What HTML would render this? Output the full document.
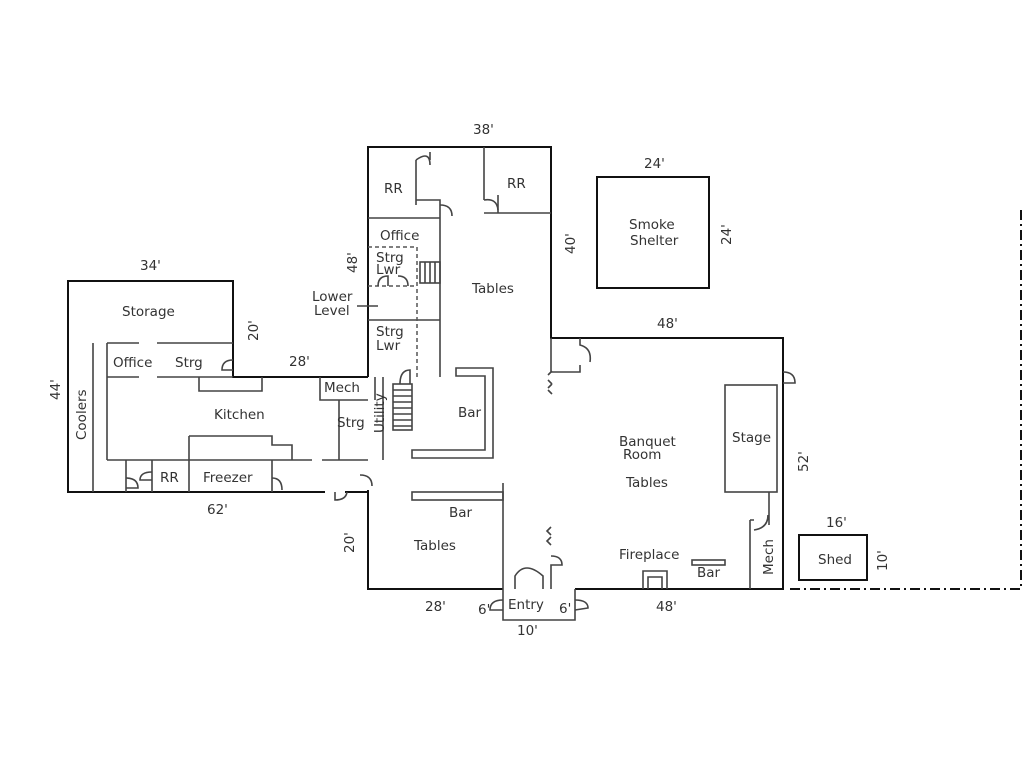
<!DOCTYPE html>
<html><head><meta charset="utf-8"><style>
html,body{margin:0;padding:0;background:#fff;}
svg{display:block}
text{font-family:"DejaVu Sans","Liberation Sans",sans-serif;font-size:13.5px;fill:#333;}
.w{stroke:#111;stroke-width:2;fill:none}
.t{stroke:#444;stroke-width:1.6;fill:none}
.d{stroke:#555;stroke-width:1.5;fill:none;stroke-dasharray:4 3}
</style></head><body>
<svg width="1024" height="768" viewBox="0 0 1024 768" xmlns="http://www.w3.org/2000/svg">
<path class="w" d="M368,377 L368,147 L551,147 L551,338 L783,338 L783,589 L575,589 M503,589 L368,589 L368,490"/>
<path class="w" d="M368,377 L233,377 L233,281 L68,281 L68,492 L325,492 M345,492 L368,492"/>
<path class="t" d="M503,589 L503,620 L575,620 L575,589"/>
<rect class="w" x="597" y="177" width="112" height="111"/>
<rect class="w" x="799" y="535" width="68" height="45"/>
<path d="M790,589 L1021,589 L1021,208" stroke="#111" stroke-width="2" fill="none" stroke-dasharray="10 4 2 4"/>
<path class="t" d="M416,205 L416,160 M430,160 L430,152 M416,200 L440,200 L440,377 M368,218 L440,218 M368,320 L440,320 M484,147 L484,200 M484,213 L551,213 M498,195 L498,213"/>
<path class="t" d="M416,160 Q430,150 430,165 M440,205 Q452,205 452,216 M484,200 Q497,198 498,210"/>
<path class="d" d="M368,247 L417,247 L417,377 M368,286 L417,286"/>
<rect class="t" x="420" y="262" width="20" height="21"/>
<path class="t" d="M425,262V283M430,262V283M435,262V283"/>
<path class="t" d="M378,286 Q378,276 388,276 L388,286 M398,276 Q408,276 408,286 M357,306 L378,306"/>
<rect class="t" x="393" y="384" width="19" height="46"/>
<path class="t" d="M393,390H412M393,396H412M393,402H412M393,408H412M393,414H412M393,420H412M393,426H412 M400,384 Q400,370 410,370 L410,384"/>
<path class="t" d="M383,377 L383,460 M375,377 L375,400"/>
<path class="t" d="M456,368 L493,368 L493,458 L412,458 L412,450 L485,450 L485,376 L456,376 Z"/>
<rect class="t" x="412" y="492" width="91" height="8"/>
<path class="t" d="M503,483 L503,589 M551,338 L551,372 L580,372 L580,365 M580,338 L580,345 Q592,348 590,362"/>
<path class="t" d="M548,375 l4,-4 M548,380 l4,4 M548,388 l4,-4 M548,390 l4,4"/>
<rect class="t" x="725" y="385" width="52" height="107"/>
<path class="t" d="M769,492 L769,525 M750,520 L750,589 M750,520 L754,520 M754,530 Q768,528 768,515 M783,372 Q795,372 795,383 L783,383"/>
<path class="t" d="M643,589 L643,571 L667,571 L667,589 M648,589 L648,577 L662,577 L662,589"/>
<rect class="t" x="692" y="560" width="33" height="5"/>
<path class="t" d="M551,527 l-4,4 l4,4 M551,537 l-4,4 l4,4 M551,556 Q562,556 562,565 L551,565 L551,589 M515,589 L515,576 Q525,560 543,576 L543,589 M503,600 Q490,600 490,610 L503,610 M575,600 Q588,600 588,608 L575,610"/>
<path class="t" d="M93,343 L93,492 M107,343 L107,460 M107,343 L139,343 M157,343 L233,343 M107,377 L139,377 M157,377 L233,377 M107,460 L312,460 M322,460 L368,460 M199,377 L199,391 L262,391 L262,377 M189,436 L272,436 L272,445 L292,445 L292,460 M189,436 L189,492 M126,460 L126,492 M152,460 L152,492 M272,460 L272,492 M320,377 L320,400 L368,400 M339,400 L339,460 M233,360 Q222,360 222,370 L233,370"/>
<path class="t" d="M126,478 Q138,478 138,488 L126,488 M152,472 Q140,472 140,480 L152,480 M272,478 Q282,478 282,490 M360,475 Q372,475 372,486 M335,492 L335,500 Q346,500 347,492"/>
<text x="473" y="134">38'</text>
<text x="644" y="168">24'</text>
<text x="629" y="229">Smoke</text><text x="630" y="245">Shelter</text>
<text x="731" y="245" transform="rotate(-90 731 245)">24'</text>
<text x="575" y="254" transform="rotate(-90 575 254)">40'</text>
<text x="384" y="193">RR</text>
<text x="507" y="188">RR</text>
<text x="380" y="240">Office</text>
<text x="376" y="262">Strg</text><text x="376" y="274">Lwr</text>
<text x="357" y="273" transform="rotate(-90 357 273)">48'</text>
<text x="312" y="301">Lower</text><text x="314" y="315">Level</text>
<text x="472" y="293">Tables</text>
<text x="376" y="336">Strg</text><text x="376" y="350">Lwr</text>
<text x="140" y="270">34'</text>
<text x="122" y="316">Storage</text>
<text x="258" y="341" transform="rotate(-90 258 341)">20'</text>
<text x="289" y="366">28'</text>
<text x="113" y="367">Office</text>
<text x="175" y="367">Strg</text>
<text x="60" y="400" transform="rotate(-90 60 400)">44'</text>
<text x="86" y="440" transform="rotate(-90 86 440)">Coolers</text>
<text x="214" y="419">Kitchen</text>
<text x="324" y="392">Mech</text>
<text x="337" y="427">Strg</text>
<text x="384" y="433" transform="rotate(-90 384 433)">Utility</text>
<text x="458" y="417">Bar</text>
<text x="160" y="482">RR</text>
<text x="203" y="482">Freezer</text>
<text x="207" y="514">62'</text>
<text x="354" y="553" transform="rotate(-90 354 553)">20'</text>
<text x="449" y="517">Bar</text>
<text x="414" y="550">Tables</text>
<text x="657" y="328">48'</text>
<text x="619" y="446">Banquet</text><text x="623" y="459">Room</text>
<text x="626" y="487">Tables</text>
<text x="732" y="442">Stage</text>
<text x="808" y="472" transform="rotate(-90 808 472)">52'</text>
<text x="826" y="527">16'</text>
<text x="818" y="564">Shed</text>
<text x="887" y="571" transform="rotate(-90 887 571)">10'</text>
<text x="619" y="559">Fireplace</text>
<text x="697" y="577">Bar</text>
<text x="773" y="575" transform="rotate(-90 773 575)">Mech</text>
<text x="425" y="611">28'</text>
<text x="478" y="614">6'</text>
<text x="508" y="609">Entry</text>
<text x="559" y="613">6'</text>
<text x="517" y="635">10'</text>
<text x="656" y="611">48'</text>
</svg>
</body></html>
